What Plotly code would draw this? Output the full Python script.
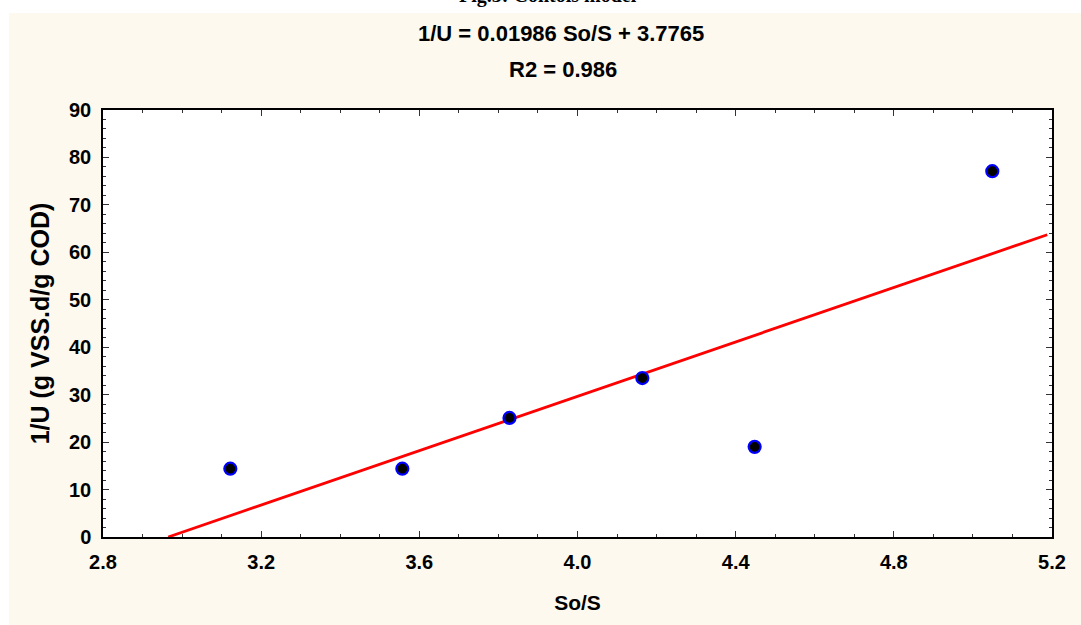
import plotly.graph_objects as go

# ---- data ----
so_s = [3.122, 3.557, 3.828, 4.164, 4.448, 5.049]
inv_u = [14.4, 14.4, 25.1, 33.5, 19.0, 77.1]

fit_x = [2.965, 5.188]
fit_y = [0.0, 63.7]

x_ticks = [2.8, 3.2, 3.6, 4.0, 4.4, 4.8, 5.2]
x_tick_labels = ["2.8", "3.2", "3.6", "4.0", "4.4", "4.8", "5.2"]
y_ticks = [0, 10, 20, 30, 40, 50, 60, 70, 80, 90]

fig_caption = "Fig.3: Contois model"
eq_text = "1/U = 0.01986 So/S + 3.7765"
r2_text = "R2 = 0.986"
x_title = "So/S"
y_title = "1/U (g VSS.d/g COD)"

# ---- layout constants (pixels) ----
W, H = 1081, 625
ML, MR, MT, MB = 103, 29, 110, 88
PW, PH = W - ML - MR, H - MT - MB
CREAM = "#FDF9EF"
FONT = "Liberation Sans"


def px_x(px):
    return (px - ML) / PW


def px_y(py):
    return (H - MB - py) / PH


fig = go.Figure()

fig.add_trace(go.Scatter(
    x=fit_x, y=fit_y, mode="lines",
    line=dict(color="#FF0000", width=2.8),
    hoverinfo="skip", showlegend=False,
))

fig.add_trace(go.Scatter(
    x=so_s, y=inv_u, mode="markers",
    marker=dict(color="#000000", size=12, line=dict(color="#0000FF", width=2.2)),
    showlegend=False,
))

axis_common = dict(
    showline=True, linecolor="#000000", linewidth=1.5, mirror="ticks",
    ticks="inside", ticklen=6, tickwidth=1, tickcolor="#333333",
    showgrid=False, zeroline=False,
    tickfont=dict(family=FONT, size=20, color="#000000", weight="bold"),
)

fig.update_xaxes(
    range=[2.8, 5.2], tickvals=x_ticks, ticktext=x_tick_labels,
    minor=dict(dtick=0.1, ticks="inside", ticklen=3, tickcolor="#333333", showgrid=False),
    title=dict(text=x_title, font=dict(family=FONT, size=21, color="#000000", weight="bold"), standoff=24),
    ticklabelstandoff=6,
    **axis_common,
)
fig.update_yaxes(
    range=[0, 90], tickvals=y_ticks,
    minor=dict(dtick=2, ticks="inside", ticklen=3, tickcolor="#333333", showgrid=False),
    title=dict(text=y_title, font=dict(family=FONT, size=25, color="#000000", weight="bold"), standoff=12),
    ticklabelstandoff=6,
    **axis_common,
)

shapes = [
    # white strips outside the cream panel
    dict(type="rect", xref="paper", yref="paper", layer="below",
         x0=px_x(0), x1=px_x(9), y0=px_y(H), y1=px_y(0),
         fillcolor="#FFFFFF", line=dict(width=0)),
    dict(type="rect", xref="paper", yref="paper", layer="below",
         x0=px_x(0), x1=px_x(W), y0=px_y(13), y1=px_y(0),
         fillcolor="#FFFFFF", line=dict(width=0)),
]

annotations = [
    dict(text=fig_caption, xref="paper", yref="paper", x=px_x(548), y=px_y(9),
         xanchor="center", yanchor="bottom", showarrow=False,
         font=dict(family="Liberation Serif", size=20, color="#000000", weight="bold")),
    dict(text=eq_text, xref="paper", yref="paper", x=px_x(561), y=px_y(33),
         xanchor="center", yanchor="middle", showarrow=False,
         font=dict(family=FONT, size=22, color="#000000", weight="bold")),
    dict(text=r2_text, xref="paper", yref="paper", x=px_x(563), y=px_y(70),
         xanchor="center", yanchor="middle", showarrow=False,
         font=dict(family=FONT, size=22, color="#000000", weight="bold")),
]

fig.update_layout(
    width=W, height=H,
    margin=dict(l=ML, r=MR, t=MT, b=MB, autoexpand=False),
    paper_bgcolor=CREAM, plot_bgcolor="#FFFFFF",
    shapes=shapes, annotations=annotations,
    showlegend=False,
)

fig.write_html(
    "out.html",
    config={"displayModeBar": False},
    post_script="document.body.style.margin='0px';",
)
